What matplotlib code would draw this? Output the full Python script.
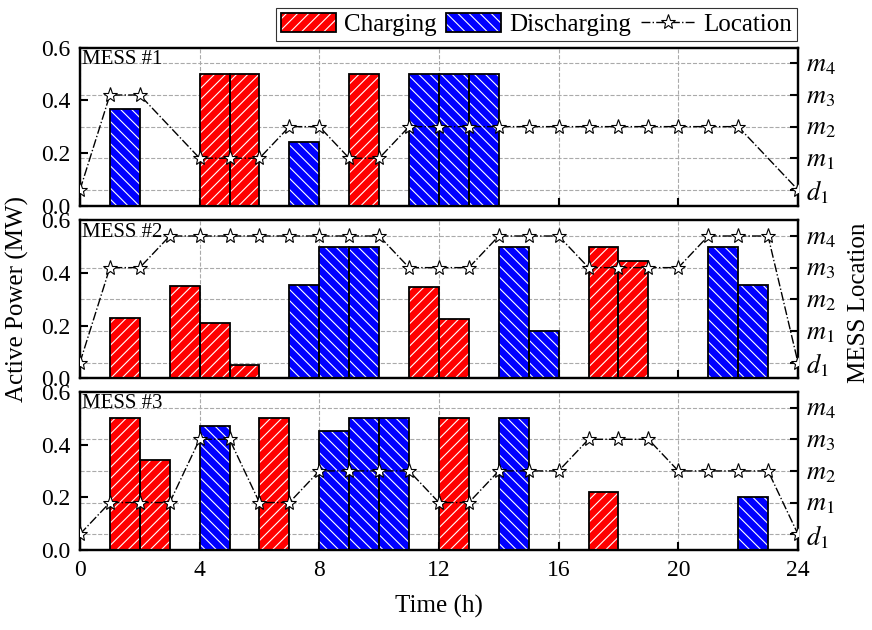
import numpy as np
import matplotlib
matplotlib.use('Agg')
import matplotlib.pyplot as plt
from matplotlib.patches import Patch
from matplotlib.lines import Line2D

plt.rcParams['font.family'] = 'Liberation Serif'
plt.rcParams['mathtext.fontset'] = 'stix'
plt.rcParams['hatch.linewidth'] = 0.8

hours = np.arange(24)

# charging / discharging power per hour (MW)
mess1_charge = [0, 0, 0, 0, 0.5, 0.5, 0, 0, 0, 0.5, 0, 0,
                0, 0, 0, 0, 0, 0, 0, 0, 0, 0, 0, 0]
mess1_discharge = [0, 0.365, 0, 0, 0, 0, 0, 0.24, 0, 0, 0, 0.5,
                   0.5, 0.5, 0, 0, 0, 0, 0, 0, 0, 0, 0, 0]
mess2_charge = [0, 0.23, 0, 0.35, 0.21, 0.05, 0, 0, 0, 0, 0, 0.345,
                0.225, 0, 0, 0, 0, 0.5, 0.445, 0, 0, 0, 0, 0]
mess2_discharge = [0, 0, 0, 0, 0, 0, 0, 0.355, 0.5, 0.5, 0, 0,
                   0, 0, 0.5, 0.18, 0, 0, 0, 0, 0, 0.5, 0.355, 0]
mess3_charge = [0, 0.5, 0.34, 0, 0, 0, 0.5, 0, 0, 0, 0, 0,
                0.5, 0, 0, 0, 0, 0.22, 0, 0, 0, 0, 0, 0]
mess3_discharge = [0, 0, 0, 0, 0.47, 0, 0, 0, 0.45, 0.5, 0.5, 0,
                   0, 0, 0.5, 0, 0, 0, 0, 0, 0, 0, 0.2, 0]

# location index: 0 = d1, 1..4 = m1..m4 (hours in transit are left out)
mess1_loc_hours = [0, 1, 2, 4, 5, 6, 7, 8, 9, 10, 11, 12, 13, 14, 15, 16,
                   17, 18, 19, 20, 21, 22, 24]
mess1_loc = [0, 3, 3, 1, 1, 1, 2, 2, 1, 1, 2, 2, 2, 2, 2, 2,
             2, 2, 2, 2, 2, 2, 0]
mess2_loc_hours = list(range(25))
mess2_loc = [0, 3, 3, 4, 4, 4, 4, 4, 4, 4, 4, 3, 3, 3, 4, 4, 4,
             3, 3, 3, 3, 4, 4, 4, 0]
mess3_loc_hours = list(range(25))
mess3_loc = [0, 1, 1, 1, 3, 3, 1, 1, 2, 2, 2, 2, 1, 1, 2, 2, 2,
             3, 3, 3, 2, 2, 2, 2, 0]

loc_labels = ['$d_1$', '$m_1$', '$m_2$', '$m_3$', '$m_4$']
panel_names = ['MESS #1', 'MESS #2', 'MESS #3']

panels = [
    (mess1_charge, mess1_discharge, mess1_loc_hours, mess1_loc),
    (mess2_charge, mess2_discharge, mess2_loc_hours, mess2_loc),
    (mess3_charge, mess3_discharge, mess3_loc_hours, mess3_loc),
]

fig = plt.figure(figsize=(8.72, 6.3), dpi=100)
left, width, height = 0.0917, 0.8234, 0.251
bottoms = [0.6735, 0.3995, 0.1270]
fs = 17


def hatched_bars(ax, vals, color, hatch):
    vals = np.array(vals)
    h = hours[vals > 0]
    v = vals[vals > 0]
    ax.bar(h, v, width=1, align='edge', color=color, edgecolor='white',
           hatch=hatch, linewidth=0, zorder=2)
    ax.bar(h, v, width=1, align='edge', fill=False, edgecolor='black',
           linewidth=1.3, zorder=2.1)


for i, (chg, dis, lh, lv) in enumerate(panels):
    ax = fig.add_axes([left, bottoms[i], width, height])
    ax2 = ax.twinx()
    ax.set_zorder(ax2.get_zorder() + 1)
    ax.patch.set_visible(False)

    hatched_bars(ax, chg, 'red', '///')
    hatched_bars(ax, dis, 'blue', '\\\\\\')

    ax.plot(lh, lv, transform=ax2.transData, color='black', linestyle='-.',
            linewidth=1.0, marker='*', markersize=11, markerfacecolor='white',
            markeredgecolor='black', markeredgewidth=0.8, zorder=3)

    ax.set_xlim(0, 24)
    ax.set_ylim(0, 0.6)
    ax.set_yticks([0, 0.2, 0.4, 0.6])
    ax.set_yticklabels(['0.0', '0.2', '0.4', '0.6'])
    ax.set_xticks(range(0, 25, 4))
    ax.xaxis.grid(True, linestyle='--', color='#aaaaaa', linewidth=0.8)
    ax.set_axisbelow(True)
    ax.tick_params(axis='both', direction='in', length=6, width=1.5,
                   labelsize=fs, right=False, top=False, pad=7)
    if i < 2:
        ax.tick_params(axis='x', labelbottom=False)

    ax2.set_ylim(-0.5, 4.5)
    ax2.set_yticks(range(5))
    ax2.set_yticklabels(loc_labels)
    ax2.yaxis.grid(True, linestyle='--', color='#aaaaaa', linewidth=0.8)
    ax2.tick_params(axis='y', direction='in', length=6, width=1.5,
                    labelsize=fs + 2, pad=6)
    for a in (ax, ax2):
        for s in a.spines.values():
            s.set_linewidth(1.6)

    ax.text(0.003, 0.985, panel_names[i], transform=ax.transAxes,
            ha='left', va='top', fontsize=15)

fig.text(0.503, 0.038, 'Time (h)', ha='center', va='center', fontsize=18)
fig.text(0.02, 0.525, 'Active Power (MW)', ha='center', va='center',
         rotation=90, fontsize=18)
fig.text(0.985, 0.52, 'MESS Location', ha='center', va='center',
         rotation=90, fontsize=18)

h_chg = (Patch(facecolor='red', edgecolor='white', hatch='///', linewidth=0),
         Patch(fill=False, edgecolor='black', linewidth=1.3))
h_dis = (Patch(facecolor='blue', edgecolor='white', hatch='\\\\\\', linewidth=0),
         Patch(fill=False, edgecolor='black', linewidth=1.3))
h_loc = Line2D([], [], color='black', linestyle='-.', linewidth=1.0,
               marker='*', markersize=11, markerfacecolor='white',
               markeredgecolor='black', markeredgewidth=0.8)
leg = fig.legend([h_chg, h_dis, h_loc], ['Charging', 'Discharging', 'Location'],
                 loc='upper right', bbox_to_anchor=(0.914, 0.988), ncol=3,
                 fontsize=18, frameon=True, fancybox=False,
                 edgecolor='black', handlelength=2.2, handleheight=0.8,
                 handletextpad=0.3, columnspacing=0.4, borderpad=0.2,
                 borderaxespad=0)
leg.get_frame().set_linewidth(0.8)

fig.savefig('out.png', dpi=100)
